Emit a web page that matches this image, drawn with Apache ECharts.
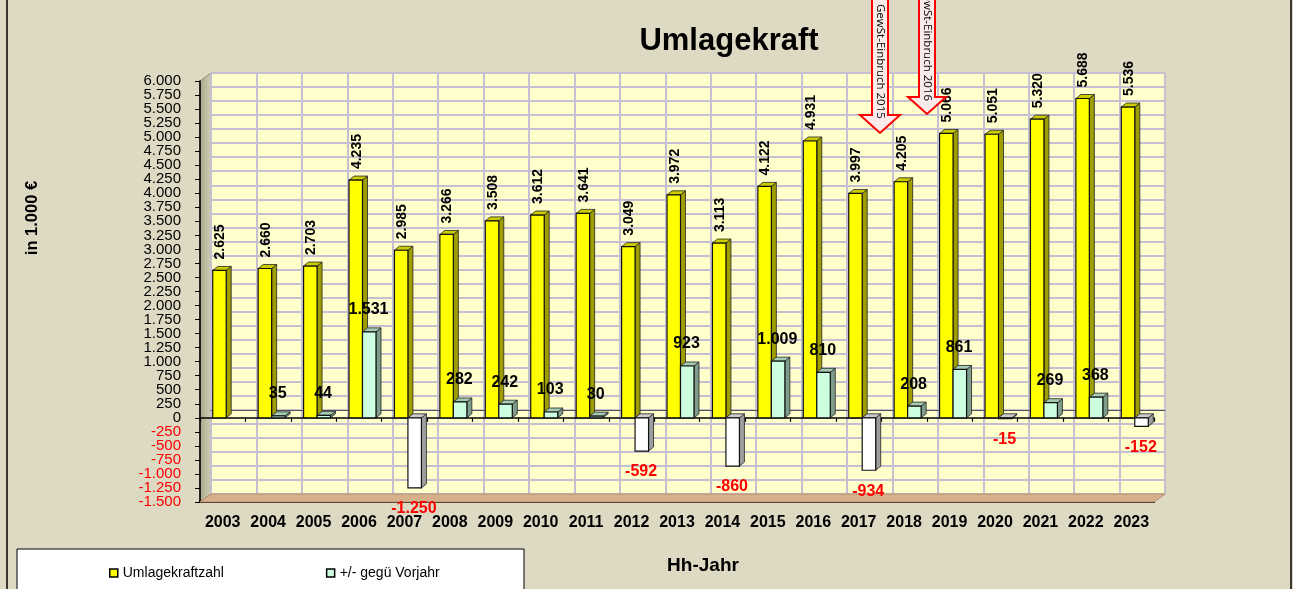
<!DOCTYPE html>
<html>
<head>
<meta charset="utf-8">
<script src="https://cdn.jsdelivr.net/npm/echarts@6/dist/echarts.min.js"></script>
<style>
html, body { margin: 0; padding: 0; background: #DDD9C3; }
#chart { width: 1293px; height: 589px; }
</style>
</head>
<body>
<div id="chart"></div>
<script>
// Hh-Jahr
var years = ['2003','2004','2005','2006','2007','2008','2009','2010','2011','2012','2013',
             '2014','2015','2016','2017','2018','2019','2020','2021','2022','2023'];
// Umlagekraftzahl (in 1.000 €)
var umlage = [2625, 2660, 2703, 4235, 2985, 3266, 3508, 3612, 3641, 3049, 3972,
              3113, 4122, 4931, 3997, 4205, 5066, 5051, 5320, 5688, 5536];
// +/- gegenüber Vorjahr
var change = [null, 35, 44, 1531, -1250, 282, 242, 103, 30, -592, 923,
              -860, 1009, 810, -934, 208, 861, -15, 269, 368, -152];
// Beschriftung der Werteachse
var yTicks = [6000, 5750, 5500, 5250, 5000, 4750, 4500, 4250, 4000, 3750, 3500, 3250,
              3000, 2750, 2500, 2250, 2000, 1750, 1500, 1250, 1000, 750, 500, 250, 0,
              -250, -500, -750, -1000, -1250, -1500];

var FONT = '"Liberation Sans", Arial, sans-serif';
var GRIDLINE = '#C6BFD2';
var DX = 11, DY = -8;   // tiefe der rückwand

// 1.234 statt 1,234
function fmt(v){
	var s = String(Math.abs(v));
	var out = '';
	while(s.length > 3){
		out = '.' + s.slice(-3) + out;
		s = s.slice(0, -3);
	}
	return (v < 0 ? '-' : '') + s + out;
}

function shade(c, f){
	var n = parseInt(c.slice(1), 16);
	var r = Math.round(((n >> 16) & 255) * f);
	var g = Math.round(((n >> 8) & 255) * f);
	var b = Math.round((n & 255) * f);
	return 'rgb(' + r + ',' + g + ',' + b + ')';
}

// 3D-Säule: Front, Seite, Deckel + Beschriftung
function bar3d(api, x0, x1, yTop, yBot, color, label){
	var d = 5, h = -4;
	var children = [
		{ type: 'polygon', shape: { points: [[x1, yTop], [x1 + d, yTop + h], [x1 + d, yBot + h], [x1, yBot]] },
		  style: { fill: shade(color, 0.62), stroke: '#222', lineWidth: 0.8 } },
		{ type: 'polygon', shape: { points: [[x0, yTop], [x0 + d, yTop + h], [x1 + d, yTop + h], [x1, yTop]] },
		  style: { fill: shade(color, 0.8), stroke: '#222', lineWidth: 0.8 } },
		{ type: 'rect', shape: { x: x0, y: yTop, width: x1 - x0, height: yBot - yTop },
		  style: { fill: color, stroke: '#111', lineWidth: 1.2 } }
	];
	if(label){ children.push(label); }
	return { type: 'group', children: children };
}

var umlageData = umlage.map(function(v, i){ return [i, v]; });
var changeData = [];
change.forEach(function(v, i){ if(v !== null){ changeData.push([i, v]); } });

var myChart = echarts.init(document.getElementById('chart'));

var option = {
	backgroundColor: '#DDD9C3',
	animation: false,
	title: {
		text: 'Umlagekraft',
		left: 724, top: 21, textAlign: 'center',
		textStyle: { fontFamily: FONT, fontSize: 31, fontWeight: 'bold', color: '#000' }
	},
	legend: {
		data: ['Umlagekraftzahl', '+/- gegü Vorjahr'],
		left: 104, top: 561,
		icon: 'rect', itemWidth: 8, itemHeight: 8, itemGap: 102,
		itemStyle: { borderColor: '#000', borderWidth: 1.5 },
		textStyle: { fontFamily: FONT, fontSize: 14, color: '#000' }
	},
	grid: [
		{ left: 200, right: 139, top: 81, bottom: 87 },
		{ left: 200 + DX, right: 139 - DX, top: 81 + DY, bottom: 87 - DY,
		  show: true, backgroundColor: '#FFFFCC', borderColor: '#B0AEB8', borderWidth: 1 }
	],
	xAxis: [
		{ type: 'category', gridIndex: 0, data: years,
		  axisLine: { onZero: true, lineStyle: { color: '#000', width: 1.6 } },
		  axisTick: { show: true, length: 4, interval: 0, lineStyle: { color: '#000', width: 1.2 } },
		  axisLabel: { show: false }, splitLine: { show: false }, z: 3 },
		{ type: 'category', gridIndex: 1, data: years,
		  axisLine: { onZero: true, lineStyle: { color: '#555', width: 1 } },
		  axisTick: { show: false }, axisLabel: { show: false },
		  splitLine: { show: true, interval: 0, lineStyle: { color: GRIDLINE, width: 2 } } },
		{ type: 'category', gridIndex: 0, data: years, position: 'bottom',
		  axisLine: { onZero: false, lineStyle: { color: '#000', width: 2 } },
		  axisTick: { show: false },
		  axisLabel: { interval: 0, margin: 13, fontFamily: FONT, fontSize: 16, fontWeight: 'bold', color: '#000' } }
	],
	yAxis: [
		{ type: 'value', gridIndex: 0, min: -1500, max: 6000, interval: 250,
		  axisLine: { show: true, lineStyle: { color: '#000', width: 1.6 } },
		  axisTick: { show: true, length: 5, lineStyle: { color: '#000' } },
		  splitLine: { show: false },
		  axisLabel: { show: false } },
		{ type: 'value', gridIndex: 1, min: -1500, max: 6000, interval: 250,
		  axisLine: { show: false }, axisTick: { show: false }, axisLabel: { show: false },
		  splitLine: { show: true, lineStyle: { color: GRIDLINE, width: 2 } } }
	],
	series: [
		{
			name: 'Umlagekraftzahl', type: 'custom', xAxisIndex: 0, yAxisIndex: 0,
			itemStyle: { color: '#FFFF00' },
			data: umlageData, z: 5,
			renderItem: function(params, api){
				var idx = api.value(0), val = api.value(1);
				var base = api.coord([idx, 0]);
				var top = api.coord([idx, val]);
				var band = api.size([1, 0])[0];
				var c = base[0];
				var x0 = c - 0.22 * band, x1 = c + 0.077 * band;
				var label = {
					type: 'text', x: (x0 + x1) / 2 + 1, y: top[1] - 11, rotation: Math.PI / 2,
					style: { text: fmt(val), align: 'left', verticalAlign: 'middle',
					         font: 'bold 14px ' + FONT, fill: '#000' }
				};
				return bar3d(api, x0, x1, top[1], base[1], '#FFFF00', label);
			}
		},
		{
			name: '+/- gegü Vorjahr', type: 'custom', xAxisIndex: 0, yAxisIndex: 0,
			itemStyle: { color: '#CCFFE0' },
			data: changeData, z: 6,
			renderItem: function(params, api){
				var idx = api.value(0), val = api.value(1);
				var base = api.coord([idx, 0]);
				var top = api.coord([idx, val]);
				var band = api.size([1, 0])[0];
				var c = base[0];
				var x0 = c + 0.077 * band, x1 = c + 0.374 * band;
				var neg = val < 0;
				var label = {
					type: 'text', x: c + 9.5, y: neg ? top[1] + 21 : top[1] - 22,
					style: { text: fmt(val), align: 'center', verticalAlign: 'middle',
					         font: 'bold 16px ' + FONT, fill: neg ? '#FF0000' : '#000' }
				};
				if(neg){
					return bar3d(api, x0, x1, base[1], top[1], '#FFFFFF', label);
				}
				return bar3d(api, x0, x1, top[1], base[1], '#CCFFE0', label);
			}
		}
	]
};
myChart.setOption(option);

// Wände, Boden, Achsenbeschriftung, Legendenrahmen, Pfeile
function drawDeco(){
	var p6 = myChart.convertToPixel({ yAxisIndex: 0 }, 6000);
	var pm = myChart.convertToPixel({ yAxisIndex: 0 }, -1500);
	var gl = 200, gr = 1293 - 139;
	var items = [
		{ type: 'polygon', z: -1, silent: true,
		  shape: { points: [[gl, p6], [gl + DX, p6 + DY], [gl + DX, pm + DY], [gl, pm]] },
		  style: { fill: new echarts.graphic.LinearGradient(0, 0, 1, 0, [
			  { offset: 0, color: '#A9A88C' }, { offset: 1, color: '#CFCDB2' }]), stroke: '#8E8C78', lineWidth: 1 } },
		{ type: 'polygon', z: 1, silent: true,
		  shape: { points: [[gl, pm], [gl + DX, pm + DY], [gr + DX, pm + DY], [gr, pm]] },
		  style: { fill: '#D6B08A', stroke: '#B89070', lineWidth: 1 } },
		{ type: 'rect', z: 0, silent: true,
		  shape: { x: 17, y: 549, width: 507, height: 44 },
		  style: { fill: '#FFFFFF', stroke: '#000', lineWidth: 1 } },
		{ type: 'rect', z: 10, silent: true,
		  shape: { x: 7, y: -2, width: 1284, height: 594 },
		  style: { fill: 'none', stroke: '#000', lineWidth: 1.5 } },
		{ type: 'text', z: 10, silent: true, x: 32, y: 218, rotation: Math.PI / 2,
		  style: { text: 'in 1.000 €', align: 'center', verticalAlign: 'middle',
		           font: 'bold 16.5px ' + FONT, fill: '#000' } },
		{ type: 'text', z: 10, silent: true, x: 703, y: 566,
		  style: { text: 'Hh-Jahr', align: 'center', verticalAlign: 'middle',
		           font: 'bold 19px ' + FONT, fill: '#000' } },
		{ type: 'polygon', z: 20, silent: true,
		  shape: { points: [[872, -5], [888, -5], [888, 115], [900, 115], [880, 133], [860, 115], [872, 115]] },
		  style: { fill: '#FBEAEA', stroke: '#FF0000', lineWidth: 2 } },
		{ type: 'text', z: 21, silent: true, x: 880, y: 4, rotation: -Math.PI / 2,
		  style: { text: 'GewSt-Einbruch 2015', align: 'left', verticalAlign: 'middle',
		           font: '11.5px "Open Sans", ' + FONT, fill: '#000' } },
		{ type: 'polygon', z: 20, silent: true,
		  shape: { points: [[919, -5], [935, -5], [935, 97], [946, 97], [927, 114], [908, 97], [919, 97]] },
		  style: { fill: '#FBEAEA', stroke: '#FF0000', lineWidth: 2 } },
		{ type: 'text', z: 21, silent: true, x: 927, y: 101, rotation: -Math.PI / 2,
		  style: { text: 'GewSt-Einbruch 2016', align: 'right', verticalAlign: 'middle',
		           font: '11.5px "Open Sans", ' + FONT, fill: '#000' } }
	];
	// Werteachse: alle Beschriftungen, auch wenn sie sich berühren
	yTicks.forEach(function(v){
		items.push({ type: 'text', z: 10, silent: true, x: 181,
			y: myChart.convertToPixel({ yAxisIndex: 0 }, v),
			style: { text: fmt(v), align: 'right', verticalAlign: 'middle',
			         font: '15px ' + FONT, fill: v < 0 ? '#FF0000' : '#000' } });
	});
	myChart.setOption({ graphic: items });
}
drawDeco();
</script>
</body>
</html>
